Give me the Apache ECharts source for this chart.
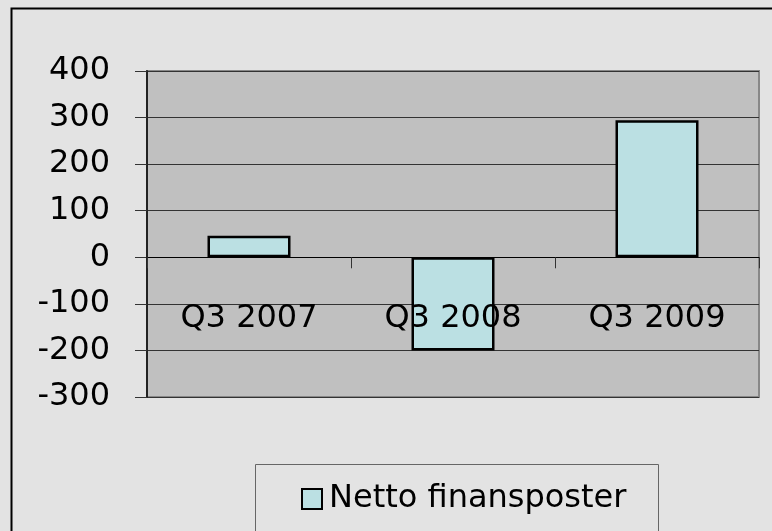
<!DOCTYPE html>
<html><head><meta charset="utf-8">
<script src="https://cdn.jsdelivr.net/npm/echarts@6/dist/echarts.min.js"></script>
<style>html,body{margin:0;padding:0;background:#e3e3e3}#c{width:772px;height:531px}</style>
</head><body><div id="c"></div>
<script>
var categories = ['Q3 2007', 'Q3 2008', 'Q3 2009'];
var values = [46, -200, 294];
var seriesName = 'Netto finansposter';
var yMin = -300, yMax = 400, yStep = 100;

var chart = echarts.init(document.getElementById('c'));
var font = 'DejaVu Sans';
var gridTop = 71, gridBottom = 134, gridH = 531 - gridTop - gridBottom;
var zeroOffset = -gridH * (0 - yMin) / (yMax - yMin);
chart.setOption({
  backgroundColor: '#e3e3e3',
  animation: false,
  textStyle: {fontFamily: font},
  grid: {left: 147, top: gridTop, right: 13, bottom: gridBottom, show: true, backgroundColor: '#c0c0c0', borderColor: '#888888', borderWidth: 2},
  legend: {
    show: true, left: 296, top: 478, icon: 'rect', itemWidth: 20, itemHeight: 20, itemGap: 0,
    textStyle: {fontFamily: font, fontSize: 32, color: '#000', padding: [0, 0, 0, 2]},
    itemStyle: {borderColor: '#000', borderWidth: 2},
    data: [seriesName]
  },
  xAxis: {
    type: 'category', data: categories, z: 5, position: 'bottom', offset: zeroOffset,
    axisLine: {onZero: false, lineStyle: {color: '#000', width: 1}},
    axisTick: {show: true, length: 11, lineStyle: {color: '#333'}},
    axisLabel: {fontFamily: font, fontSize: 32, color: '#000', margin: 45},
    splitLine: {show: false}
  },
  yAxis: {
    type: 'value', min: yMin, max: yMax, interval: yStep,
    axisLine: {show: true, lineStyle: {color: '#222', width: 2}},
    axisTick: {show: true, length: 12, lineStyle: {color: '#333'}},
    axisLabel: {fontFamily: font, fontSize: 32, color: '#000', margin: 37},
    splitLine: {show: true, lineStyle: {color: '#333', width: 1}}
  },
  series: [{
    name: seriesName, type: 'bar', data: values, barWidth: 83,
    itemStyle: {color: '#bbe0e3', borderColor: '#000', borderWidth: 2.5}
  }],
  graphic: [
    {type: 'rect', left: 9, top: 6, shape: {width: 800, height: 600}, style: {fill: 'none', stroke: '#000', lineWidth: 2}, silent: true},
    {type: 'rect', left: 253, top: 462, shape: {width: 403, height: 68}, style: {fill: 'none', stroke: '#666', lineWidth: 1}, silent: true}
  ]
});
</script></body></html>
